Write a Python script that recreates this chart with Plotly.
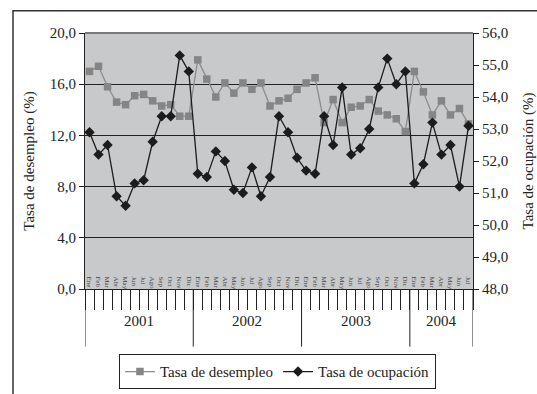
import plotly.graph_objects as go

# Monthly series, Jan 2001 - Jul 2004
years_in_data = {"2001": 12, "2002": 12, "2003": 12, "2004": 7}
month_names = ["Ene", "Feb", "Mar", "Abr", "May", "Jun",
               "Jul", "Ago", "Sep", "Oct", "Nov", "Dic"]

periods = []
month_labels = []
for yr, n in years_in_data.items():
    for m in month_names[:n]:
        periods.append(f"{m} {yr}")
        month_labels.append(m)

desempleo = [17.0, 17.4, 15.8, 14.6, 14.4, 15.1, 15.2, 14.7, 14.3, 14.4, 13.5, 13.5,
             17.9, 16.4, 15.0, 16.1, 15.3, 16.1, 15.6, 16.1, 14.3, 14.7, 14.9, 15.6,
             16.1, 16.5, 13.0, 14.8, 13.0, 14.2, 14.3, 14.8, 13.9, 13.6, 13.3, 12.3,
             17.0, 15.4, 13.6, 14.7, 13.6, 14.1, 12.9]

ocupacion = [52.9, 52.2, 52.5, 50.9, 50.6, 51.3, 51.4, 52.6, 53.4, 53.4, 55.3, 54.8,
             51.6, 51.5, 52.3, 52.0, 51.1, 51.0, 51.8, 50.9, 51.5, 53.4, 52.9, 52.1,
             51.7, 51.6, 53.4, 52.5, 54.3, 52.2, 52.4, 53.0, 54.3, 55.2, 54.4, 54.8,
             51.3, 51.9, 53.2, 52.2, 52.5, 51.2, 53.1]

serif = "Times New Roman, Liberation Serif, DejaVu Serif, serif"
ink = "#222222"

fig = go.Figure()
fig.add_trace(go.Scatter(
    x=periods, y=desempleo,
    name="Tasa de desempleo", mode="lines+markers",
    line=dict(color="#8c8c8c", width=1.3),
    marker=dict(symbol="square", size=7.5, color="#858585"),
))
fig.add_trace(go.Scatter(
    x=periods, y=ocupacion,
    name="Tasa de ocupación", mode="lines+markers", yaxis="y2",
    line=dict(color="#1c1c1c", width=1.3),
    marker=dict(symbol="diamond", size=8, color="#1c1c1c"),
))

# Year group labels and dividers under the month axis
shapes = [
    dict(type="line", xref="paper", yref="paper", x0=0, x1=1, y0=1, y1=1,
         line=dict(color="#7a7a7a", width=2)),
    dict(type="rect", xref="paper", yref="paper",
         x0=(13 - 85) / 388, x1=(545 - 85) / 388,
         y0=(289 - 400) / 256, y1=(289 - 10.7) / 256,
         line=dict(color="#333333", width=1.5), layer="below"),
]
annotations = []
start = 0
for yr, n in years_in_data.items():
    shapes.append(dict(type="line", xref="x", yref="paper",
                       x0=start - 0.5, x1=start - 0.5, y0=0, y1=-0.225,
                       line=dict(color=ink, width=1)))
    annotations.append(dict(text=yr, xref="x", yref="paper",
                            x=start + (n - 1) / 2, y=-0.165,
                            showarrow=False, font=dict(size=15, color=ink)))
    start += n
shapes.append(dict(type="line", xref="x", yref="paper",
                   x0=start - 0.5, x1=start - 0.5, y0=0, y1=-0.225,
                   line=dict(color=ink, width=1)))

fig.update_layout(
    width=537, height=394,
    margin=dict(l=85, r=64, t=33, b=105, autoexpand=False),
    paper_bgcolor="white",
    plot_bgcolor="#c8c9cb",
    font=dict(family=serif, size=15, color=ink),
    separators=", ",
    showlegend=True,
    legend=dict(
        orientation="h", x=0.496, xanchor="center", y=-0.255, yanchor="top",
        bordercolor=ink, borderwidth=1, font=dict(size=15),
        bgcolor="white", itemwidth=30, tracegroupgap=0,
    ),
    xaxis=dict(
        type="category", range=[-0.5, len(periods) - 0.5],
        tickmode="array", tickvals=periods, ticktext=month_labels,
        tickson="boundaries",
        showline=True, linecolor=ink, linewidth=1,
        ticks="outside", ticklen=20, tickcolor=ink,
        tickangle=90, tickfont=dict(size=7, color="#444444"),
        ticklabelstandoff=-15,
        showgrid=False, automargin=False,
    ),
    yaxis=dict(
        range=[0, 20], dtick=4, tickformat=".1f",
        tickfont=dict(family=serif, size=15),
        showline=True, linecolor=ink, linewidth=1,
        ticks="outside", ticklen=5, tickcolor=ink,
        showgrid=True, gridcolor=ink, gridwidth=1,
        zeroline=False, automargin=False,
        title=dict(text="Tasa de desempleo (%)", standoff=11, font=dict(size=15)),
    ),
    yaxis2=dict(
        overlaying="y", side="right",
        range=[48, 56], dtick=1, tickformat=".1f",
        tickfont=dict(family=serif, size=15),
        showline=True, linecolor=ink, linewidth=1,
        ticks="outside", ticklen=5, tickcolor=ink,
        showgrid=False, zeroline=False, automargin=False,
        title=dict(text="Tasa de ocupación (%)", standoff=16, font=dict(size=15)),
    ),
    shapes=shapes,
    annotations=annotations,
)

fig.write_html("out.html")
